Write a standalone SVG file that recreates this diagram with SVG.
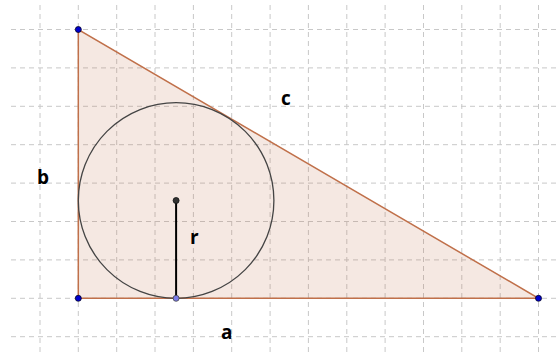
<svg xmlns="http://www.w3.org/2000/svg" width="558" height="356" viewBox="0 0 558 356">
<style>
.grid line{stroke:#c8c8c8;stroke-width:1;stroke-dasharray:5,4}
.lbl{font-family:"Open Sans","Liberation Sans",sans-serif;font-weight:bold;font-size:19px;fill:#000}
</style>
<rect width="558" height="356" fill="#fff"/>
<g class="grid">
<line x1="40" y1="5" x2="40" y2="356"/>
<line x1="78.3" y1="5" x2="78.3" y2="356"/>
<line x1="116.7" y1="5" x2="116.7" y2="356"/>
<line x1="155" y1="5" x2="155" y2="356"/>
<line x1="193.4" y1="5" x2="193.4" y2="356"/>
<line x1="231.7" y1="5" x2="231.7" y2="356"/>
<line x1="270.1" y1="5" x2="270.1" y2="356"/>
<line x1="308.4" y1="5" x2="308.4" y2="356"/>
<line x1="346.8" y1="5" x2="346.8" y2="356"/>
<line x1="385.1" y1="5" x2="385.1" y2="356"/>
<line x1="423.5" y1="5" x2="423.5" y2="356"/>
<line x1="461.8" y1="5" x2="461.8" y2="356"/>
<line x1="500.2" y1="5" x2="500.2" y2="356"/>
<line x1="538.5" y1="5" x2="538.5" y2="356"/>
<line x1="11" y1="29.5" x2="558" y2="29.5"/>
<line x1="11" y1="67.9" x2="558" y2="67.9"/>
<line x1="11" y1="106.3" x2="558" y2="106.3"/>
<line x1="11" y1="144.7" x2="558" y2="144.7"/>
<line x1="11" y1="183.1" x2="558" y2="183.1"/>
<line x1="11" y1="221.5" x2="558" y2="221.5"/>
<line x1="11" y1="259.9" x2="558" y2="259.9"/>
<line x1="11" y1="298.3" x2="558" y2="298.3"/>
<line x1="11" y1="336.7" x2="558" y2="336.7"/>
</g>
<g id="triangle">
<polygon points="78.3,29.5 78.3,298.3 538.5,298.3" fill="#c0704a" fill-opacity="0.16" stroke="#c0704a" stroke-width="1.5"/>
</g>
<g id="incircle">
<circle cx="176.1" cy="200.5" r="97.8" fill="none" stroke="#444" stroke-width="1.3"/>
</g>
<g id="connectors">
<line x1="176.1" y1="200.5" x2="176.1" y2="298.3" stroke="#000" stroke-width="2"/>
</g>
<g id="points">
<circle cx="78.3" cy="29.5" r="3" fill="#0000d0" stroke="#002" stroke-width="0.8"/>
<circle cx="78.3" cy="298.3" r="3" fill="#0000d0" stroke="#002" stroke-width="0.8"/>
<circle cx="538.5" cy="298.3" r="3" fill="#0000d0" stroke="#002" stroke-width="0.8"/>
<circle cx="176.1" cy="200.5" r="3" fill="#333" stroke="#111" stroke-width="0.8"/>
<circle cx="176.1" cy="298.3" r="3" fill="#7a7ae8" stroke="#444" stroke-width="0.8"/>
</g>
<g id="labels">
<text class="lbl" x="221" y="339">a</text>
<text class="lbl" x="37" y="184">b</text>
<text class="lbl" x="281" y="105">c</text>
<text class="lbl" x="190" y="244">r</text>
</g>
</svg>
